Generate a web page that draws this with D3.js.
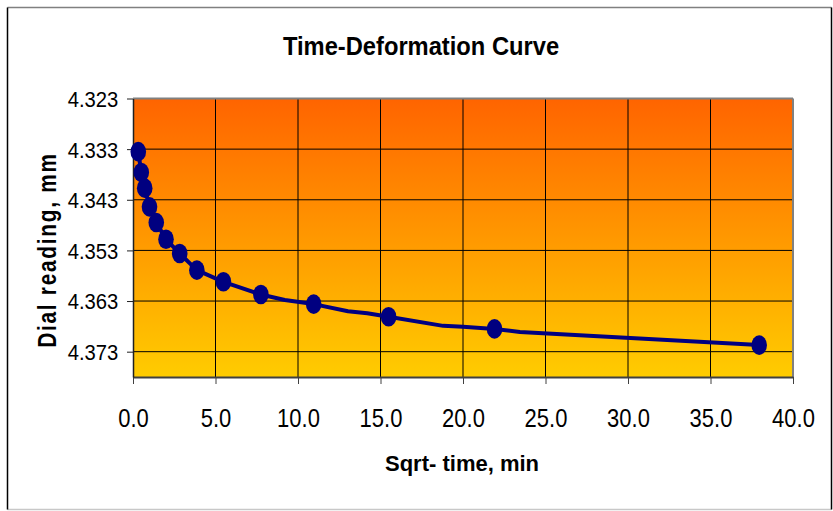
<!DOCTYPE html>
<html>
<head>
<meta charset="utf-8">
<script src="https://cdn.jsdelivr.net/npm/d3@7"></script>
<style>
  html, body { margin: 0; padding: 0; background: #fff; }
  svg { display: block; font-family: "Liberation Sans", Arial, sans-serif; }
</style>
</head>
<body>
<svg id="chart" width="833" height="511"></svg>
<script>
// Square root of elapsed time (min) at each dial reading
const sqrtTime = [0.32, 0.50, 0.71, 1.00, 1.41, 2.00, 2.83, 3.87, 5.48, 7.75, 10.95, 15.49, 21.91, 37.95];
// Dial readings (mm) at the marked times
const dialReading = [4.3335, 4.3376, 4.3407, 4.3444, 4.3475, 4.3508, 4.3536, 4.3569, 4.3592, 4.3617, 4.3636, 4.3661, 4.3685, 4.3717];

// Connecting curve, including the intermediate readings without markers
const curveTime = [0.32, 0.50, 0.71, 1.00, 1.41, 2.00, 2.83, 3.87, 5.48, 7.75, 9.20, 10.95, 13.03, 14.20, 15.49, 18.80, 20.00, 21.91, 23.45, 37.95];
const curveReading = [4.3335, 4.3376, 4.3407, 4.3444, 4.3475, 4.3508, 4.3536, 4.3569, 4.3592, 4.3617, 4.3628, 4.3636, 4.3650, 4.3654, 4.3661, 4.3679, 4.3681, 4.3685, 4.3691, 4.3717];

// Axis ticks
const xTicks = [0, 5, 10, 15, 20, 25, 30, 35, 40];
const yTicks = [4.323, 4.333, 4.343, 4.353, 4.363, 4.373];

const svg = d3.select("#chart");
const plot = { left: 133, right: 793, top: 98.5, bottom: 377 };

const x = d3.scaleLinear().domain([0, 40]).range([plot.left, plot.right]);
const y = d3.scaleLinear().domain([4.323, 4.378]).range([plot.top, plot.bottom]);

// Outer frame
svg.append("line").attr("x1", 7.5).attr("x2", 831.5).attr("y1", 7.5).attr("y2", 7.5).attr("stroke", "#808080").attr("stroke-width", 1.5);
svg.append("line").attr("x1", 7.5).attr("x2", 831.5).attr("y1", 509.5).attr("y2", 509.5).attr("stroke", "#c8c8c8").attr("stroke-width", 1.5);
svg.append("line").attr("x1", 7.5).attr("x2", 7.5).attr("y1", 7.5).attr("y2", 509.5).attr("stroke", "#000").attr("stroke-width", 1.5);
svg.append("line").attr("x1", 831.5).attr("x2", 831.5).attr("y1", 7.5).attr("y2", 509.5).attr("stroke", "#000").attr("stroke-width", 1.5);

// Plot background gradient
const defs = svg.append("defs");
const grad = defs.append("linearGradient").attr("id", "bg").attr("x1", 0).attr("y1", 0).attr("x2", 0).attr("y2", 1);
grad.append("stop").attr("offset", "0%").attr("stop-color", "#ff6400");
grad.append("stop").attr("offset", "100%").attr("stop-color", "#ffcc00");

svg.append("rect")
  .attr("x", plot.left).attr("y", plot.top)
  .attr("width", plot.right - plot.left).attr("height", plot.bottom - plot.top)
  .attr("fill", "url(#bg)");

// Gridlines
svg.append("g").selectAll("line").data(yTicks.slice(1)).join("line")
  .attr("x1", plot.left).attr("x2", plot.right)
  .attr("y1", d => y(d)).attr("y2", d => y(d))
  .attr("stroke", "#000").attr("stroke-width", 1);
svg.append("g").selectAll("line").data(xTicks.slice(1, -1)).join("line")
  .attr("x1", d => x(d)).attr("x2", d => x(d))
  .attr("y1", plot.top).attr("y2", plot.bottom)
  .attr("stroke", "#000").attr("stroke-width", 1);

// Plot area border (top and right)
svg.append("line").attr("x1", plot.left).attr("x2", plot.right).attr("y1", plot.top).attr("y2", plot.top)
  .attr("stroke", "#808080").attr("stroke-width", 2);
svg.append("line").attr("x1", plot.right).attr("x2", plot.right).attr("y1", plot.top).attr("y2", plot.bottom)
  .attr("stroke", "#808080").attr("stroke-width", 2);

// X axis
const xAxis = svg.append("g")
  .attr("transform", `translate(0,${plot.bottom})`)
  .call(d3.axisBottom(x).tickValues(xTicks).tickFormat(d3.format(".1f")).tickSize(7).tickSizeOuter(0));
xAxis.select(".domain").attr("stroke", "#404040").attr("stroke-width", 2);
xAxis.selectAll(".tick line").attr("stroke", "#404040");
xAxis.selectAll(".tick text")
  .attr("font-family", "'Liberation Sans', Arial, sans-serif")
  .attr("font-size", 26.5).attr("fill", "#000")
  .attr("y", 50).attr("dy", 0)
  .attr("transform", "scale(0.83,1)");

// Y axis
const yAxis = svg.append("g")
  .attr("transform", `translate(${plot.left},0)`)
  .call(d3.axisLeft(y).tickValues(yTicks).tickFormat(d3.format(".3f")).tickSize(6).tickSizeOuter(0));
yAxis.select(".domain").attr("stroke", "#202020").attr("stroke-width", 1.5);
yAxis.selectAll(".tick line").attr("stroke", "#202020");
yAxis.selectAll(".tick text")
  .attr("font-family", "'Liberation Sans', Arial, sans-serif")
  .attr("font-size", 22).attr("fill", "#000")
  .attr("x", -16).attr("dy", "0.36em")
  .attr("transform", "scale(0.92,1)");

// Curve
const line = d3.line().x(d => x(d[0])).y(d => y(d[1]));
svg.append("path")
  .datum(curveTime.map((t, i) => [t, curveReading[i]]))
  .attr("d", line)
  .attr("fill", "none").attr("stroke", "#000080").attr("stroke-width", 4)
  .attr("stroke-linejoin", "round");

// Markers
svg.append("g").selectAll("ellipse")
  .data(sqrtTime.map((t, i) => [t, dialReading[i]]))
  .join("ellipse")
  .attr("cx", d => x(d[0])).attr("cy", d => y(d[1]))
  .attr("rx", 7.8).attr("ry", 9.8)
  .attr("fill", "#000080");

// Titles
svg.append("text")
  .attr("transform", "translate(421,54.5) scale(0.93,1)")
  .attr("text-anchor", "middle").attr("font-weight", "bold").attr("font-size", 25.5)
  .text("Time-Deformation Curve");

svg.append("text")
  .attr("transform", "translate(462,471)")
  .attr("text-anchor", "middle").attr("font-weight", "bold").attr("font-size", 22)
  .text("Sqrt- time, min");

svg.append("text")
  .attr("transform", "translate(56,250) rotate(-90) scale(0.8,1)")
  .attr("text-anchor", "middle").attr("font-weight", "bold").attr("font-size", 26)
  .attr("letter-spacing", 2.2)
  .text("Dial reading, mm");
</script>
</body>
</html>
